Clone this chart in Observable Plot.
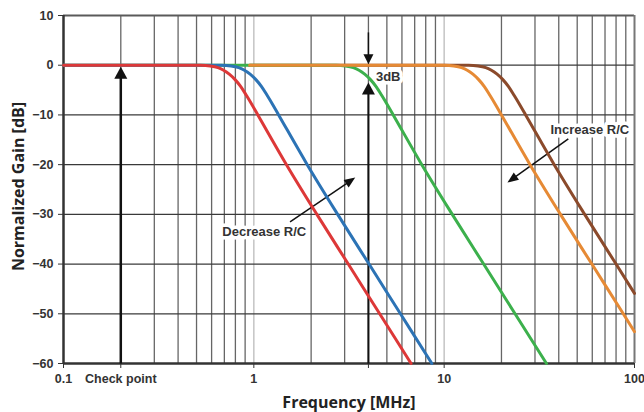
<!DOCTYPE html>
<html><head><meta charset="utf-8">
<script src="https://cdn.jsdelivr.net/npm/d3@7"></script>
<script src="https://cdn.jsdelivr.net/npm/@observablehq/plot@0.6"></script>
<style>
html,body{margin:0;padding:0;background:#fff;}
#chart svg{display:block;}
</style></head>
<body><div id="chart"></div>
<script>
// ---- axis ticks ----
const tickFreqs = [0.1, 0.2, 1, 4, 10, 100];
const tickLabels = ["0.1", "Check point", "1", "Target", "10", "100"];
const gainTicks = [10, 0, -10, -20, -30, -40, -50, -60];
const gridFreqs = [0.2,0.3,0.4,0.5,0.6,0.7,0.8,0.9, 2,3,4,5,6,7,8,9, 20,30,40,50,60,70,80,90];
const decadeFreqs = [1, 10];

// ---- curves ----
const redFreq    = [0.1, 0.526, 0.590, 0.648, 0.694, 0.743, 0.797, 0.854, 0.915, 0.980, 1.05, 1.484, 2.144, 3.134, 4.583, 6.702];
const redGain    = [0,   0,    -0.15, -0.5,  -1.0,  -1.8,  -2.9,  -4.3,  -6.1,  -8.0, -10,  -20,   -30,   -40,   -50,   -60];
const blueFreq   = [0.1, 0.676, 0.759, 0.833, 0.892, 0.956, 1.025, 1.098, 1.176, 1.260, 1.35, 1.908, 2.757, 4.030, 5.893, 8.617];
const blueGain   = [0,   0,    -0.15, -0.5,  -1.0,  -1.8,  -2.9,  -4.3,  -6.1,  -8.0, -10,  -20,   -30,   -40,   -50,   -60];
const greenFreq  = [0.1, 2.705, 3.035, 3.332, 3.569, 3.823, 4.099, 4.390, 4.703, 5.038, 5.4, 7.630, 11.03, 16.12, 23.57, 34.47];
const greenGain  = [0,   0,    -0.15, -0.5,  -1.0,  -1.8,  -2.9,  -4.3,  -6.1,  -8.0, -10,  -20,   -30,   -40,   -50,   -60];
const orangeFreq = [0.95, 10.02, 11.24, 12.34, 13.22, 14.16, 15.18, 16.26, 17.42, 18.66, 20.0, 28.26, 40.84, 59.70, 87.30, 100];
const orangeGain = [0,    0,    -0.15, -0.5,  -1.0,  -1.8,  -2.9,  -4.3,  -6.1,  -8.0, -10,  -20,   -30,   -40,   -50,   -53.6];
const brownFreq  = [0.95, 13.43, 15.06, 16.54, 17.71, 18.97, 20.34, 21.79, 23.34, 25.0, 26.8, 37.87, 54.73, 80.0, 100];
const brownGain  = [0,    0,    -0.15, -0.5,  -1.0,  -1.8,  -2.9,  -4.3,  -6.1,  -8.0, -10,  -20,   -30,   -40,  -45.9];

// ---- annotations ----
const arrowX1 = [0.2, 4, 4, 1.55, 44.9];
const arrowY1 = [-60, -60, 6.6, -31.5, -14.8];
const arrowX2 = [0.2, 4, 4, 3.41, 21.5];
const arrowY2 = [-0.3, -3.5, 0.2, -22.6, -23.6];
const noteText = ["3dB", "Decrease R/C", "Increase R/C"];
const noteFreq = [5.08, 1.134, 58.2];
const noteGain = [-2.4, -33.5, -12.9];

// styles
const shaftWidth = [2.5, 2, 1.5, 1.5, 1.5];
const headLen = [12, 12, 10, 11, 11];
const headWid = [13, 13, 10, 9, 9];

const zip = (f, g) => f.map((v, i) => ({f: v, g: g[i]}));
const series = [
  {data: zip(brownFreq, brownGain), color: "#8b4a2b"},
  {data: zip(greenFreq, greenGain), color: "#3cb04c"},
  {data: zip(blueFreq, blueGain), color: "#2c73b5"},
  {data: zip(redFreq, redGain), color: "#dd3838"},
  {data: zip(orangeFreq, orangeGain), color: "#e68a35"}
];

function headSymbol(len, wid) {
  return {draw(ctx) { ctx.moveTo(0, 0); ctx.lineTo(wid / 2, len); ctx.lineTo(-wid / 2, len); ctx.closePath(); }};
}

const font = "'Liberation Sans', Arial, sans-serif";
const titleFont = "'Open Sans', sans-serif";

function build(shafts, heads) {
  const marks = [
    Plot.ruleX(decadeFreqs, {stroke: "#c4c4c4", strokeWidth: 1.5}),
    Plot.ruleX(gridFreqs, {stroke: "#666", strokeWidth: 1.3}),
    Plot.ruleY(gainTicks.slice(1, -1), {stroke: "#3a3a3a", strokeWidth: 1.2}),
    Plot.ruleY([10], {stroke: "#5a5a5a", strokeWidth: 2}),
    Plot.ruleX([100], {stroke: "#777", strokeWidth: 2}),
    Plot.ruleX([0.1], {stroke: "#333", strokeWidth: 2.5}),
    Plot.ruleY([-60], {stroke: "#333", strokeWidth: 2.5}),
    Plot.axisY({ticks: gainTicks, tickSize: 5, tickPadding: 5, label: null, fontSize: 12.5, fontWeight: "bold", fontFamily: font, color: "#333"}),
    Plot.axisX({ticks: tickFreqs, tickFormat: d => tickLabels[tickFreqs.indexOf(d)], tickSize: 5, tickPadding: 6, label: null, fontSize: 12.5, fontWeight: "bold", fontFamily: font, color: "#333"}),
    Plot.text(noteText, {x: (d, i) => noteFreq[i], y: (d, i) => noteGain[i], text: d => d, fontSize: 13, fontWeight: "bold", fontFamily: font, fill: "#333", stroke: "white", strokeWidth: 7}),
    ...shafts.map(s => Plot.link([s], {x1: "x1", y1: "y1", x2: "x2", y2: "y2", stroke: "#111", strokeWidth: s.w})),
    ...series.map(s => Plot.line(s.data, {x: "f", y: "g", stroke: s.color, strokeWidth: 3, curve: "monotone-x"})),
    ...heads.map(h => Plot.dot([h], {x: "x", y: "y", r: 5, rotate: h.rot, symbol: headSymbol(h.len, h.wid), fill: "#111", stroke: "none"})),
    Plot.text(["Frequency [MHz]"], {frameAnchor: "bottom", dy: 39, text: d => d, fontSize: 16, fontWeight: "bold", fontFamily: titleFont, fill: "#222", lineAnchor: "middle"}),
    Plot.text(["Normalized Gain [dB]"], {frameAnchor: "left", dx: -45, dy: -3, rotate: -90, textAnchor: "middle", text: d => d, fontSize: 16, fontWeight: "bold", fontFamily: titleFont, fill: "#222", lineAnchor: "middle"})
  ];
  return Plot.plot({
    width: 644, height: 412,
    marginLeft: 63, marginRight: 10, marginTop: 15, marginBottom: 49,
    x: {type: "log", domain: [0.1, 100]},
    y: {domain: [-60, 10]},
    style: {background: "white", fontFamily: font},
    marks
  });
}

// pass 1: obtain scales
const idx = arrowX1.map((_, i) => i);
const p1 = build(idx.map(i => ({x1: arrowX1[i], y1: arrowY1[i], x2: arrowX2[i], y2: arrowY2[i], w: shaftWidth[i]})),
                 idx.map(i => ({x: arrowX2[i], y: arrowY2[i], rot: 0, len: headLen[i], wid: headWid[i]})));
const sx = p1.scale("x"), sy = p1.scale("y");
const shafts = [], heads = [];
for (const i of idx) {
  const ax = sx.apply(arrowX1[i]), ay = sy.apply(arrowY1[i]);
  const bx = sx.apply(arrowX2[i]), by = sy.apply(arrowY2[i]);
  const dx = bx - ax, dy = by - ay, L = Math.hypot(dx, dy);
  const rot = Math.atan2(dx, -dy) * 180 / Math.PI;
  const back = headLen[i] * 0.6;
  const ex = bx - dx / L * back, ey = by - dy / L * back;
  shafts.push({x1: arrowX1[i], y1: arrowY1[i], x2: sx.invert(ex), y2: sy.invert(ey), w: shaftWidth[i]});
  heads.push({x: arrowX2[i], y: arrowY2[i], rot, len: headLen[i], wid: headWid[i]});
}
document.getElementById("chart").appendChild(build(shafts, heads));
</script>
</body></html>
